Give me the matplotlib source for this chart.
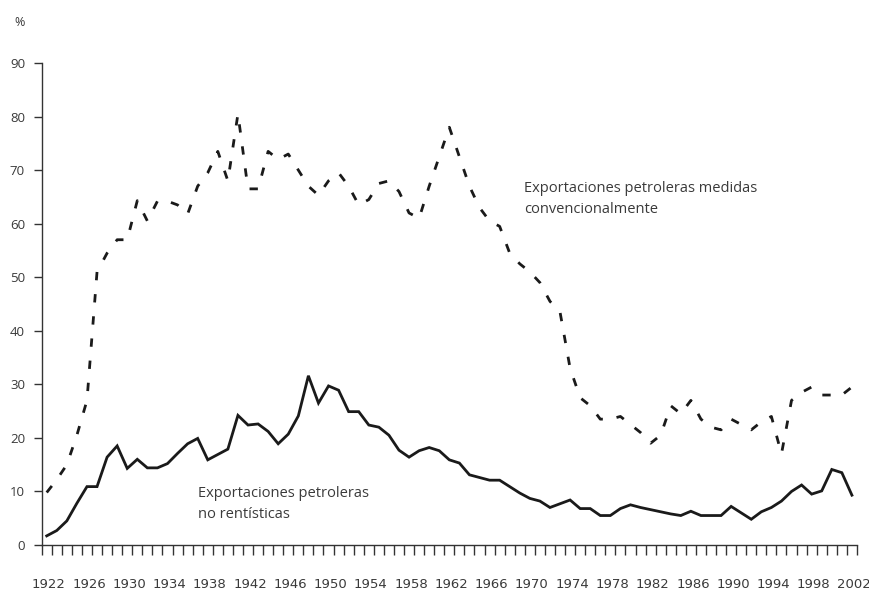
import matplotlib
matplotlib.use('Agg')
import matplotlib.pyplot as plt
import numpy as np

plt.rcParams['font.family'] = ['Open Sans', 'DejaVu Sans']

years = np.arange(1922, 2003)

# exportaciones petroleras medidas convencionalmente (%)
conventional = [
    9.8, 12.2, 15.0, 20.5, 27.0, 51.0, 54.5, 57.0, 57.0, 64.3,
    60.5, 64.2, 64.2, 63.5, 61.8, 67.0, 69.5, 73.5, 68.0, 80.5,
    66.5, 66.5, 73.5, 72.0, 73.0, 70.0, 67.0, 65.3, 68.0, 69.5,
    67.0, 63.5, 64.5, 67.5, 68.0, 66.0, 62.0, 61.0, 67.0, 72.5,
    78.0, 72.5, 67.0, 63.0, 60.5, 59.5, 54.5, 52.5, 51.0, 49.0,
    45.5, 43.5, 33.0, 27.5, 26.0, 23.5, 23.5, 24.0, 22.5, 21.0,
    19.0, 20.5, 26.0, 24.5, 27.0, 23.5, 22.0, 21.5, 23.5, 22.5,
    21.5, 23.0, 24.0, 17.0, 27.0, 28.5, 29.5, 28.0, 28.0, 28.0,
    29.5,
]

# exportaciones petroleras no rentisticas (%)
non_rent = [
    1.7, 2.7, 4.5, 7.8, 10.9, 10.9, 16.4, 18.5, 14.3, 16.0,
    14.4, 14.4, 15.2, 17.1, 18.9, 19.9, 15.9, 16.9, 17.9, 24.2,
    22.4, 22.6, 21.2, 18.9, 20.7, 24.1, 31.6, 26.5, 29.7, 28.9,
    24.9, 24.9, 22.4, 22.0, 20.5, 17.7, 16.4, 17.6, 18.2, 17.6,
    15.9, 15.3, 13.1, 12.6, 12.1, 12.1, 10.9, 9.7, 8.7, 8.2,
    7.0, 7.7, 8.4, 6.8, 6.8, 5.5, 5.5, 6.8, 7.5, 7.0,
    6.6, 6.2, 5.8, 5.5, 6.3, 5.5, 5.5, 5.5, 7.2, 6.0,
    4.8, 6.2, 7.0, 8.2, 10.0, 11.2, 9.5, 10.1, 14.1, 13.5,
    9.3,
]

label_years = np.arange(1922, 2003, 4)

fig = plt.figure(figsize=(8.7, 5.9), dpi=100)
ax = fig.add_axes([0.0479, 0.0763, 0.9371, 0.8169])

line_color = '#1a1a1a'
text_color = '#3a3a3a'

ax.plot(years, conventional, color=line_color, lw=2.0, linestyle=(0, (3, 5)),
        solid_capstyle='butt', dash_capstyle='butt')
ax.plot(years, non_rent, color=line_color, lw=2.0, solid_joinstyle='miter')

ax.set_xlim(1921.5, 2002.5)
ax.set_ylim(0, 90)
ax.set_yticks(np.arange(0, 91, 10))

# yearly tick marks between the years, labels every four years
ax.set_xticks(np.arange(1921.5, 2003, 1), minor=True)
ax.set_xticks(label_years + 0.2)
ax.set_xticklabels([str(y) for y in label_years],
                   family=['Liberation Sans Narrow', 'DejaVu Sans'])

for side in ['top', 'right']:
    ax.spines[side].set_visible(False)
for side in ['left', 'bottom']:
    ax.spines[side].set_color('#333333')
    ax.spines[side].set_linewidth(1.0)

ax.tick_params(axis='x', which='minor', direction='out', length=7, width=1,
               color='#333333')
ax.tick_params(axis='x', which='major', length=0, pad=23.5, labelsize=9.5,
               labelcolor=text_color)
ax.tick_params(axis='y', direction='out', length=6, width=1, color='#333333',
               pad=6, labelsize=9.5, labelcolor=text_color)

ax.text(1969.4, 68.0, 'Exportaciones petroleras medidas\nconvencionalmente',
        ha='left', va='top', fontsize=10.5, color=text_color, linespacing=1.6)
ax.text(1937.0, 11.1, 'Exportaciones petroleras\nno rentísticas',
        ha='left', va='top', fontsize=10.5, color=text_color, linespacing=1.6)

fig.text(0.023, 1 - 23 / 590, '%', ha='center', va='center', fontsize=9,
         color=text_color)

fig.savefig('out.png', dpi=100)
